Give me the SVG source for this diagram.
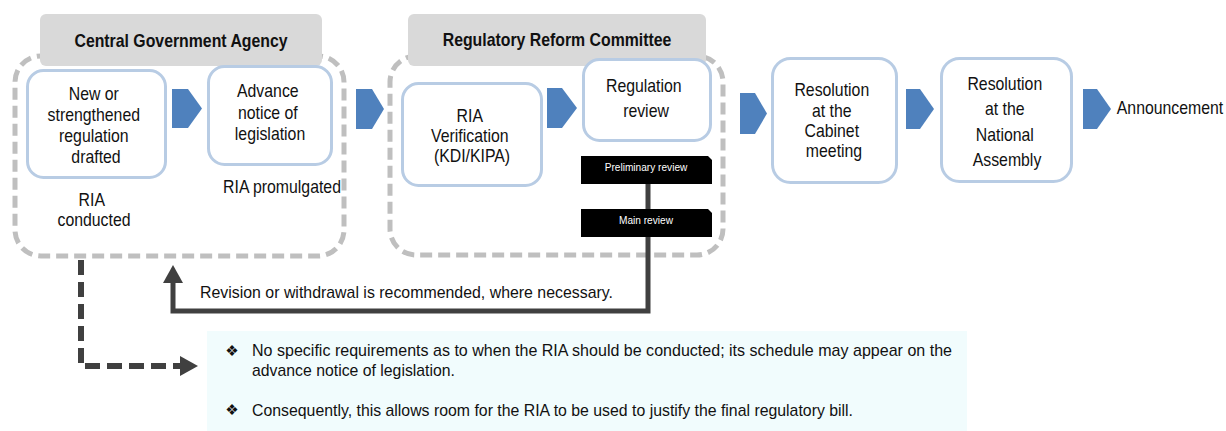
<svg xmlns="http://www.w3.org/2000/svg" width="1226" height="431" viewBox="0 0 1226 431">
  <style>
    .group-outline { fill: none; stroke: #bfbfbf; stroke-width: 5; stroke-dasharray: 12 6; }
    .header { fill: #d9d9d9; }
    .header-text { font-family: "Liberation Sans", Arial, sans-serif; font-size: 18px; font-weight: bold; fill: #111; text-anchor: middle; }
    .box { fill: #fff; stroke: #b8cce4; stroke-width: 3; }
    .label { font-family: "Liberation Sans", Arial, sans-serif; font-size: 18px; fill: #111; text-anchor: middle; }
    .note { font-family: "Liberation Sans", Arial, sans-serif; font-size: 17px; fill: #111; }
    .chevron { fill: #4f81bd; }
    .tag { fill: #000; }
    .tag-text { font-family: "Liberation Sans", Arial, sans-serif; font-size: 11.5px; fill: #fff; text-anchor: middle; }
    .link { fill: none; stroke: #404040; stroke-width: 5; }
    .link-dashed { fill: none; stroke: #404040; stroke-width: 6; stroke-dasharray: 15 7; }
    .bullet { font-family: "DejaVu Sans", sans-serif; font-size: 15px; fill: #111; text-anchor: middle; }
  </style>
  <defs>
    <marker id="arrowhead" markerUnits="userSpaceOnUse" markerWidth="20" markerHeight="20" refX="0" refY="10" orient="auto" viewBox="0 0 20 20">
      <path d="M0,0 L18,10 L0,20 Z" fill="#404040"/>
    </marker>
  </defs>

  <!-- Dashed grouping frames with their title tabs -->
  <g id="group-agency">
    <rect class="group-outline" x="15" y="56" width="329" height="200" rx="26"/>
    <rect class="header" x="40" y="14" width="282" height="52" rx="6"/>
    <text class="header-text" transform="translate(181,0) scale(0.88,1)" x="0" y="47">Central Government Agency</text>
  </g>
  <g id="group-committee">
    <rect class="group-outline" x="390" y="56" width="333" height="199" rx="26"/>
    <rect class="header" x="408" y="14" width="298" height="52" rx="6"/>
    <text class="header-text" transform="translate(557,0) scale(0.88,1)" x="0" y="46">Regulatory Reform Committee</text>
  </g>

  <!-- Process steps -->
  <g id="node-drafted">
    <rect class="box" x="27.5" y="70.5" width="138" height="107" rx="16"/>
    <text class="label" transform="translate(96,0) scale(0.88,1)">
      <tspan x="0" y="100">New or</tspan>
      <tspan x="0" y="121">strengthened</tspan>
      <tspan x="0" y="142">regulation</tspan>
      <tspan x="0" y="163">drafted</tspan>
    </text>
    <text class="label" transform="translate(94,0) scale(0.88,1)">
      <tspan x="0" y="206">RIA</tspan>
      <tspan x="0" y="226">conducted</tspan>
    </text>
  </g>
  <g id="node-advance-notice">
    <rect class="box" x="208.5" y="66.5" width="123" height="98" rx="16"/>
    <text class="label" transform="translate(270,0) scale(0.88,1)">
      <tspan x="0" y="97">Advance</tspan>
      <tspan x="0" y="119">notice of</tspan>
      <tspan x="0" y="140">legislation</tspan>
    </text>
    <text class="label" transform="translate(282,0) scale(0.88,1)" x="0" y="193">RIA promulgated</text>
  </g>
  <g id="node-ria-verification">
    <rect class="box" x="402.5" y="83.5" width="139" height="102" rx="16"/>
    <text class="label" transform="translate(472,0) scale(0.88,1)">
      <tspan x="0" y="122">RIA</tspan>
      <tspan x="0" y="142">Verification</tspan>
      <tspan x="0" y="162">(KDI/KIPA)</tspan>
    </text>
  </g>
  <g id="node-regulation-review">
    <rect class="box" x="583.5" y="59.5" width="127" height="81" rx="16"/>
    <text class="label" transform="translate(646,0) scale(0.88,1)">
      <tspan x="0" y="92">Regulation</tspan>
      <tspan x="0" y="117">review</tspan>
    </text>
  </g>
  <g id="node-cabinet">
    <rect class="box" x="772.5" y="58.5" width="124" height="124" rx="18"/>
    <text class="label" transform="translate(834,0) scale(0.88,1)">
      <tspan x="0" y="96">Resolution</tspan>
      <tspan x="0" y="117">at the</tspan>
      <tspan x="0" y="137">Cabinet</tspan>
      <tspan x="0" y="157">meeting</tspan>
    </text>
  </g>
  <g id="node-assembly">
    <rect class="box" x="941.5" y="58.5" width="130" height="123" rx="18"/>
    <text class="label" transform="translate(1007,0) scale(0.88,1)">
      <tspan x="0" y="90">Resolution</tspan>
      <tspan x="0" y="115">at the</tspan>
      <tspan x="0" y="141">National</tspan>
      <tspan x="0" y="166">Assembly</tspan>
    </text>
  </g>
  <g id="node-announcement">
    <text class="label" transform="translate(1170,0) scale(0.88,1)" x="0" y="114">Announcement</text>
  </g>

  <!-- Flow chevrons between steps -->
  <g id="chevrons">
    <polygon class="chevron" points="172,89 188,89 202,108.5 188,128 172,128"/>
    <polygon class="chevron" points="356,89 372,89 384,109 372,129 356,129"/>
    <polygon class="chevron" points="547,88 562,88 577,108 562,128 547,128"/>
    <polygon class="chevron" points="740,93 755,93 767,113.5 755,134 740,134"/>
    <polygon class="chevron" points="906,89 920,89 934,109 920,129 906,129"/>
    <polygon class="chevron" points="1083,89 1097,89 1111,109 1097,129 1083,129"/>
  </g>

  <!-- Feedback and note connectors -->
  <g id="connectors">
    <path class="link" d="M648,184 V311 H173 V283" marker-end="url(#arrowhead)"/>
    <path class="link-dashed" d="M81,260 V366 H180" marker-end="url(#arrowhead)"/>
  </g>

  <!-- Review stages under the regulation review step -->
  <g id="node-preliminary-review">
    <path class="tag" d="M581,156 H708 L712,160 V184 H581 Z"/>
    <text class="tag-text" transform="translate(646,0) scale(0.88,1)" x="0" y="171">Preliminary review</text>
  </g>
  <g id="node-main-review">
    <path class="tag" d="M581,209 H708 L712,213 V237 H581 Z"/>
    <text class="tag-text" transform="translate(646,0) scale(0.88,1)" x="0" y="224">Main review</text>
  </g>

  <g id="label-revision">
    <text class="note" x="200" y="297.5" textLength="413" lengthAdjust="spacingAndGlyphs">Revision or withdrawal is recommended, where necessary.</text>
  </g>

  <!-- Note panel -->
  <g id="note-panel">
    <rect x="207" y="331" width="760" height="100" fill="#f1fcfd"/>
    <text class="bullet" x="232" y="355.5">❖</text>
    <text class="note" x="252" y="356" textLength="700" lengthAdjust="spacingAndGlyphs">No specific requirements as to when the RIA should be conducted; its schedule may appear on the</text>
    <text class="note" x="252" y="376" textLength="203" lengthAdjust="spacingAndGlyphs">advance notice of legislation.</text>
    <text class="bullet" x="232" y="415">❖</text>
    <text class="note" x="252" y="415.5" textLength="601" lengthAdjust="spacingAndGlyphs">Consequently, this allows room for the RIA to be used to justify the final regulatory bill.</text>
  </g>
</svg>
